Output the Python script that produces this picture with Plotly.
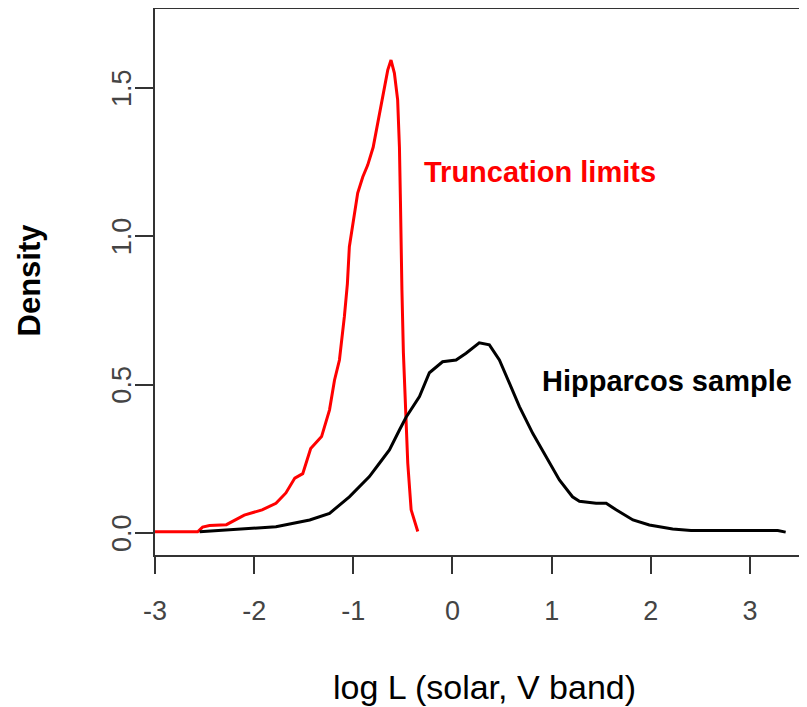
import plotly.graph_objects as go

# Truncation limits density (red)
trunc_x = [-3.0, -2.57, -2.52, -2.45, -2.28, -2.10, -1.92, -1.78, -1.68, -1.59, -1.51, -1.43,
           -1.32, -1.24, -1.19, -1.14, -1.09, -1.06, -1.04, -0.99, -0.956, -0.905, -0.855,
           -0.80, -0.754, -0.70, -0.653, -0.62, -0.586, -0.553, -0.535, -0.525, -0.520,
           -0.510, -0.495, -0.468, -0.451, -0.417, -0.35]
trunc_y = [0.004, 0.004, 0.02, 0.025, 0.028, 0.06, 0.078, 0.10, 0.135, 0.185, 0.20, 0.285,
           0.325, 0.415, 0.515, 0.583, 0.73, 0.84, 0.965, 1.066, 1.146, 1.20, 1.24,
           1.30, 1.38, 1.48, 1.56, 1.594, 1.55, 1.46, 1.30, 1.12, 0.99,
           0.82, 0.607, 0.404, 0.235, 0.078, 0.005]

# Hipparcos sample density (black)
hip_x = [-2.55, -2.28, -2.0, -1.78, -1.44, -1.24, -1.04, -0.838, -0.737, -0.636, -0.535,
         -0.468, -0.333, -0.233, -0.10, 0.036, 0.137, 0.27, 0.372, 0.473, 0.574, 0.675,
         0.809, 0.944, 1.078, 1.21, 1.28, 1.448, 1.55, 1.65, 1.82, 1.985, 2.22, 2.405,
         2.8, 3.28, 3.36]
hip_y = [0.004, 0.01, 0.014, 0.021, 0.044, 0.066, 0.122, 0.19, 0.235, 0.28, 0.347,
         0.39, 0.46, 0.54, 0.577, 0.583, 0.606, 0.641, 0.634, 0.583, 0.505, 0.426,
         0.336, 0.257, 0.179, 0.122, 0.107, 0.10, 0.10, 0.078, 0.044, 0.027, 0.0135, 0.008,
         0.008, 0.008, 0.003]

x_ticks = [-3, -2, -1, 0, 1, 2, 3]
x_tick_labels = ["-3", "-2", "-1", "0", "1", "2", "3"]
y_ticks = [0.0, 0.5, 1.0, 1.5]
y_tick_labels = ["0.0", "0.5", "1.0", "1.5"]

fig = go.Figure()
fig.add_hline(y=0, line=dict(color="#c8c8c8", width=2), layer="below")
fig.add_trace(go.Scatter(x=trunc_x, y=trunc_y, mode="lines",
                         line=dict(color="#ff0000", width=3), showlegend=False))
fig.add_trace(go.Scatter(x=hip_x, y=hip_y, mode="lines",
                         line=dict(color="#000000", width=3), showlegend=False))

font_fam = "Liberation Sans, Arial, sans-serif"

annotations = [
    dict(text="<b>Truncation limits</b>", x=0.881, y=1.217, xref="x", yref="y",
         showarrow=False, font=dict(size=29, color="#ff0000")),
    dict(text="<b>Hipparcos sample</b>", x=2.168, y=0.512, xref="x", yref="y",
         showarrow=False, font=dict(size=29, color="#000")),
    dict(text="log L (solar, V band)", x=0.5058, y=-0.2413, xref="paper", yref="paper",
         showarrow=False, font=dict(size=34, color="#000"), yanchor="middle"),
    dict(text="<b>Density</b>", x=-0.1926, y=0.5027, xref="paper", yref="paper",
         showarrow=False, textangle=-90, font=dict(size=31, color="#000"),
         xanchor="center", yanchor="middle"),
]
# y tick labels, rotated, placed next to the tick marks
for v, t in zip(y_ticks, y_tick_labels):
    annotations.append(dict(text=t, x=0, y=v, xref="paper", yref="y", xshift=-33,
                            showarrow=False, textangle=-90,
                            font=dict(size=27, color="#444"),
                            xanchor="center", yanchor="middle"))

fig.update_layout(
    width=799, height=699,
    margin=dict(l=147, r=0, t=0, b=152),
    plot_bgcolor="white", paper_bgcolor="white",
    font=dict(family=font_fam, color="#000"),
    xaxis=dict(range=[-3, 3.575], tickvals=x_ticks, ticktext=x_tick_labels,
               ticks="outside", ticklen=17,
               tickwidth=2, tickcolor="#333", showline=True, linecolor="#333",
               linewidth=2, showgrid=False, zeroline=False,
               tickfont=dict(size=27, color="#444"), ticklabelstandoff=14),
    yaxis=dict(range=[-0.0742, 1.7695], tickvals=y_ticks, showticklabels=False,
               ticks="outside", ticklen=18, tickwidth=2, tickcolor="#333",
               showline=True, linecolor="#333", linewidth=2, showgrid=False,
               zeroline=False),
    shapes=[dict(type="line", xref="paper", yref="paper", x0=0, x1=1, y0=1, y1=1,
                 line=dict(color="#333", width=2))],
    annotations=annotations,
)

fig.write_html("out.html")
